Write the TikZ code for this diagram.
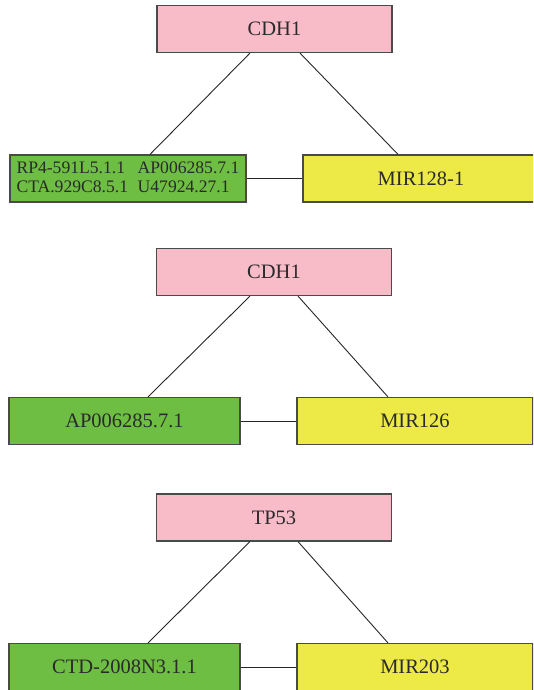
\documentclass[tikz,border=0pt]{standalone}
\usepackage{fontspec}
\setmainfont{Liberation Serif}
\definecolor{pinkbox}{HTML}{F8BCC8}
\definecolor{greenbox}{HTML}{6EBE44}
\definecolor{yellowbox}{HTML}{EDEA48}
\definecolor{edge}{HTML}{4A4A4A}
\definecolor{txt}{HTML}{2A2A2A}
\begin{document}
\begin{tikzpicture}[x=1pt,y=-1pt,
  box/.style={draw=edge,line width=1.2pt,minimum height=47pt,inner sep=0pt,text=txt,font=\fontsize{20.5}{24}\selectfont,anchor=center},
  gene/.style={box,fill=pinkbox,minimum width=235pt},
  lnc/.style={box,fill=greenbox},
  mir/.style={box,fill=yellowbox,minimum width=236pt},
  link/.style={draw=black!85,line width=0.9pt}]
\useasboundingbox (0,0) rectangle (533,690);
\clip (0,0) rectangle (533,690);
% panel 1
\node[gene] (c1) at (274.5,29) {CDH1};
\node[lnc,minimum width=236pt,font=\fontsize{17.6}{20}\selectfont] (g1) at (128,178.5)
  {\begin{tabular}{@{}l@{\hspace{0.55em}}l@{}}RP4-591L5.1.1 & AP006285.7.1\\[-1pt]CTA.929C8.5.1 & U47924.27.1\end{tabular}};
\node[mir] (y1) at (421,178.5) {MIR128-1};
\draw[link] ([xshift=-24.5pt]c1.south) -- ([xshift=22pt]g1.north);
\draw[link] ([xshift=25.5pt]c1.south) -- ([xshift=-23pt]y1.north);
\draw[link] (g1) -- (y1);
% panel 2
\node[gene] (c2) at (274,272) {CDH1};
\node[lnc,minimum width=231pt] (g2) at (124.5,421) {AP006285.7.1};
\node[mir] (y2) at (415,421) {MIR126};
\draw[link] ([xshift=-24pt]c2.south) -- ([xshift=23.5pt]g2.north);
\draw[link] ([xshift=24pt]c2.south) -- ([xshift=-27pt]y2.north);
\draw[link] (g2) -- (y2);
% panel 3
\node[gene] (c3) at (274,517.5) {TP53};
\node[lnc,minimum width=231pt] (g3) at (124.5,667) {CTD-2008N3.1.1};
\node[mir] (y3) at (415,667) {MIR203};
\draw[link] ([xshift=-24pt]c3.south) -- ([xshift=23.5pt]g3.north);
\draw[link] ([xshift=24pt]c3.south) -- ([xshift=-27pt]y3.north);
\draw[link] (g3) -- (y3);
\end{tikzpicture}
\end{document}
